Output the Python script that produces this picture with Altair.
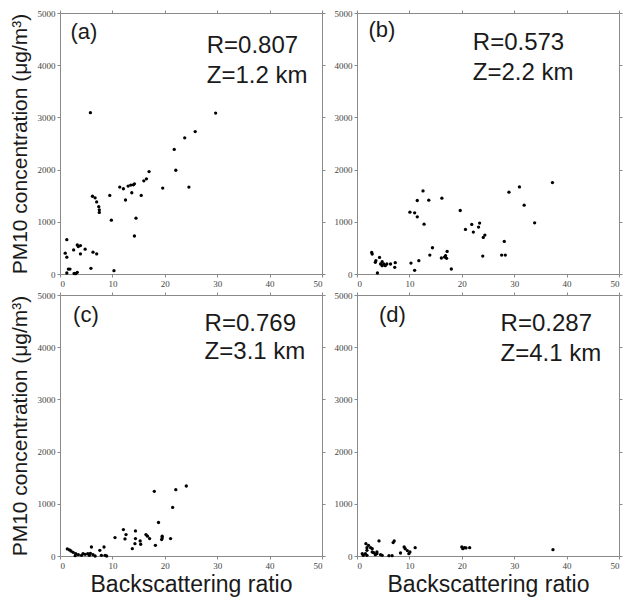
import altair as alt
import pandas as pd

# ---- data ----
xa = [5.8, 29.7, 25.8, 23.8, 21.8, 22.1, 17.0, 16.5, 16.0, 24.6, 19.6, 11.4, 12.1, 13.0, 13.5, 14.0, 14.2,
      13.7, 15.5, 12.5, 9.5, 6.2, 6.7, 7.0, 7.4, 7.5, 7.5, 9.8, 14.5, 14.2, 1.3, 1.0, 1.3, 2.6, 3.3, 3.5,
      3.9, 4.8, 3.9, 6.3, 7.0, 5.9, 10.3, 1.6, 1.9, 1.3, 3.0, 3.3, 2.7]
ya = [3090, 3082, 2728, 2608, 2386, 1987, 1962, 1823, 1785, 1665, 1646, 1665, 1633, 1684, 1703, 1709, 1728,
      1557, 1506, 1418, 1506, 1490, 1460, 1380, 1290, 1230, 1180, 1032, 1070, 728, 658, 399, 323, 462, 557, 525,
      544, 475, 386, 418, 386, 108, 63, 95, 95, 19, 6, 32, 10]

xb = [37.3, 31.0, 29.0, 31.9, 33.9, 28.1, 27.6, 28.3, 24.0, 24.4, 24.1, 23.4, 23.2, 21.9, 22.2, 20.7, 19.7,
      16.2, 12.6, 11.5, 13.7, 10.1, 11.0, 11.5, 12.8, 14.4, 13.9, 17.2, 16.1, 16.7, 16.9, 17.1, 18.0, 11.8,
      10.3, 11.0, 2.8, 2.9, 3.5, 3.6, 4.3, 4.5, 4.8, 5.1, 5.4, 5.7, 6.4, 7.2, 7.3, 4.8, 3.9]
yb = [1752, 1669, 1567, 1318, 981, 624, 363, 363, 344, 745, 701, 975, 898, 949, 803, 854, 1217,
      1452, 1592, 1408, 1414, 1185, 1172, 1096, 955, 503, 363, 433, 306, 325, 350, 300, 96, 255,
      210, 70, 414, 382, 223, 255, 318, 191, 236, 191, 159, 191, 191, 127, 217, 159, 19]

xc = [24.1, 22.1, 18.0, 21.5, 18.8, 12.1, 14.4, 10.5, 12.6, 12.4, 16.4, 16.7, 17.1, 14.4, 14.3, 13.8, 15.3,
      15.4, 19.5, 19.5, 19.4, 21.1, 18.2, 8.4, 7.6, 6.0, 1.4, 1.8, 2.1, 2.5, 3.0, 3.5, 4.4, 4.8, 5.3, 5.6,
      5.8, 6.3, 6.7, 7.9, 8.6, 8.9, 2.9, 4.1]
yc = [1341, 1271, 1239, 931, 642, 507, 481, 353, 411, 327, 411, 379, 334, 334, 237, 141, 289,
      225, 379, 347, 315, 334, 205, 173, 109, 173, 135, 116, 96, 71, 45, 26, 45, 32, 45, 13,
      51, 26, 0, 13, 13, 0, 6, 13]

xd = [37.4, 21.5, 20.0, 20.2, 20.5, 20.8, 11.1, 9.9, 10.1, 9.6, 9.2, 9.0, 8.3, 6.9, 7.1, 4.2, 1.7, 2.2,
      2.6, 1.9, 2.9, 1.9, 1.0, 1.2, 1.6, 1.9, 3.2, 3.5, 3.8, 4.5, 4.8, 6.1, 6.7, 2.9, 3.8]
yd = [122, 160, 173, 141, 160, 154, 160, 45, 77, 103, 141, 173, 58, 257, 289, 289, 237, 205,
      160, 160, 141, 109, 45, 13, 45, 13, 64, 26, 45, 26, 13, 6, 6, 77, 77]

panel_tags = ["(a)", "(b)", "(c)", "(d)"]
r_texts = ["R=0.807", "R=0.573", "R=0.769", "R=0.287"]
z_texts = ["Z=1.2 km", "Z=2.2 km", "Z=3.1 km", "Z=4.1 km"]

# annotation anchor positions in data units
tag_pos = [(2.0, 4500), (2.2, 4540), (2.5, 4480), (4.2, 4480)]
rz_x = [28.0, 22.1, 27.6, 27.4]
r_y = [4230, 4290, 4310, 4310]
z_y = [3660, 3720, 3770, 3730]

Y_TITLE = "PM10 concentration (\u03bcg/m\u00b3)"
X_TITLE = "Backscattering ratio"

W = 262
H = 261
GRAY = "#8a8a8a"
LABEL_FONT = "Liberation Serif"
TEXT_FONT = "Liberation Sans"
XV = [0, 10, 20, 30, 40, 50]
YV = [0, 1000, 2000, 3000, 4000, 5000]


def panel(xs, ys, i, show_ytitle, show_xtitle):
    df = pd.DataFrame({"x": xs, "y": ys})
    xscale = alt.Scale(domain=[0, 50], nice=False, zero=False)
    yscale = alt.Scale(domain=[0, 5000], nice=False, zero=False)
    xaxis = alt.Axis(
        values=XV, format="d", grid=False,
        title=X_TITLE if show_xtitle else None,
        titleFont=TEXT_FONT, titleFontSize=23, titleFontWeight="normal", titleColor="#1a1a1a",
        titlePadding=3,
        labelFont=LABEL_FONT, labelFontSize=9, labelColor="#444", labelPadding=2,
        domainColor=GRAY, tickColor=GRAY, tickSize=3,
    )
    yaxis = alt.Axis(
        values=YV, format="d", grid=False,
        title=Y_TITLE if show_ytitle else None,
        titleFont=TEXT_FONT, titleFontSize=21, titleFontWeight="normal", titleColor="#1a1a1a",
        titlePadding=7,
        labelFont=LABEL_FONT, labelFontSize=9, labelColor="#444", labelPadding=2,
        domainColor=GRAY, tickColor=GRAY, tickSize=3,
    )
    pts = alt.Chart(df).mark_circle(color="black", opacity=1, size=11).encode(
        x=alt.X("x:Q", scale=xscale, axis=xaxis),
        y=alt.Y("y:Q", scale=yscale, axis=yaxis),
    )
    frame = alt.Chart(df).mark_circle(opacity=0, size=1).encode(
        x=alt.X("x:Q", scale=xscale, axis=alt.Axis(orient="top", values=XV,
                                                     labels=False, title=None, grid=False,
                                                     domainColor=GRAY, tickColor=GRAY, tickSize=3)),
        y=alt.Y("y:Q", scale=yscale, axis=alt.Axis(orient="right", values=YV,
                                                     labels=False, title=None, grid=False,
                                                     domainColor=GRAY, tickColor=GRAY, tickSize=3)),
    )
    tdf = pd.DataFrame({
        "x": [tag_pos[i][0], rz_x[i], rz_x[i]],
        "y": [tag_pos[i][1], r_y[i], z_y[i]],
        "t": [panel_tags[i], r_texts[i], z_texts[i]],
        "s": [22, 24, 24],
    })
    txt = alt.Chart(tdf).mark_text(align="left", baseline="alphabetic", font=TEXT_FONT,
                                   color="#1a1a1a").encode(
        x=alt.X("x:Q", scale=xscale, axis=None),
        y=alt.Y("y:Q", scale=yscale, axis=None),
        text="t:N",
        size=alt.Size("s:Q", scale=None, legend=None),
    )
    return alt.layer(pts, txt, frame).resolve_axis(x="independent", y="independent").properties(
        width=W, height=H)


pa = panel(xa, ya, 0, True, False)
pb = panel(xb, yb, 1, False, False)
pc = panel(xc, yc, 2, True, True)
pd_ = panel(xd, yd, 3, False, True)

chart = alt.concat(pa, pb, pc, pd_, columns=2,
                   spacing={"row": 21, "column": 35}, bounds="flush").properties(
    padding={"left": 0, "top": 0, "right": 0, "bottom": 0}
).configure_view(stroke=GRAY, strokeWidth=1).configure(background="white")

chart.save("out.html", embed_options={"renderer": "svg", "actions": False})
